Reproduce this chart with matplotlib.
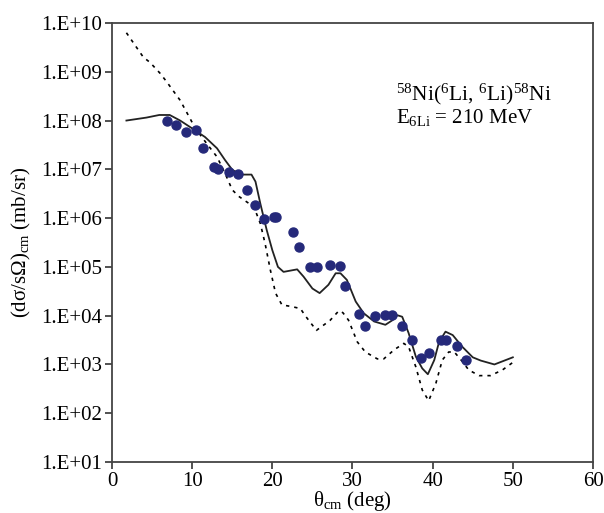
import matplotlib
matplotlib.use('Agg')
import matplotlib.pyplot as plt
from matplotlib.ticker import FixedLocator, FuncFormatter
import numpy as np

matplotlib.rcParams.update({'font.family': 'Liberation Serif',
                            'font.size': 15,
                            'mathtext.fontset': 'custom',
                            'mathtext.rm': 'Liberation Serif',
                            'mathtext.it': 'Liberation Serif:italic'})

# measured cross sections (points)
theta_exp = [6.9, 8.0, 9.2, 10.5, 11.4, 12.7, 13.2, 14.6, 15.7, 16.8, 17.9, 18.9,
             20.2, 20.5, 22.6, 23.3, 24.7, 25.6, 27.2, 28.5, 29.1, 30.8, 31.6,
             32.8, 34.0, 34.9, 36.2, 37.4, 38.6, 39.6, 41.0, 41.7, 43.0, 44.2]
sigma_exp = [1.0e8, 8.1e7, 5.9e7, 6.3e7, 2.7e7, 1.1e7, 1.0e7, 8.7e6, 8.2e6, 3.8e6,
             1.9e6, 9.8e5, 1.05e6, 1.05e6, 5.2e5, 2.5e5, 1.0e5, 9.8e4, 1.1e5, 1.05e5,
             4.0e4, 1.1e4, 6.2e3, 9.8e3, 1.05e4, 1.05e4, 6.2e3, 3.1e3, 1.34e3,
             1.74e3, 3.1e3, 3.1e3, 2.35e3, 1.26e3]

# calculation 1 (solid)
theta_a = [1.8, 4.3, 5.9, 7.2, 8.5, 10.0, 11.6, 13.1, 14.1, 15.0, 16.0, 17.4, 17.9,
           18.5, 19.3, 20.0, 20.7, 21.4, 23.1, 23.9, 25.0, 25.9, 27.0, 27.9, 28.5,
           29.3, 30.4, 31.4, 32.7, 34.1, 35.0, 35.6, 36.2, 37.0, 37.9, 38.7, 39.4,
           40.2, 40.8, 41.6, 42.5, 43.7, 45.0, 46.0, 47.7, 50.0]
sigma_a = [1.0e8, 1.15e8, 1.3e8, 1.3e8, 1.0e8, 6.9e7, 4.6e7, 2.7e7, 1.55e7, 9.8e6,
           7.8e6, 7.8e6, 5.6e6, 2.0e6, 5.7e5, 2.2e5, 1.0e5, 7.9e4, 8.9e4, 6.3e4,
           3.6e4, 2.9e4, 4.3e4, 7.4e4, 7.4e4, 5.4e4, 1.95e4, 1.12e4, 7.6e3, 6.5e3,
           8.1e3, 1.02e4, 9.5e3, 4.4e3, 1.45e3, 8.3e2, 6.3e2, 1.23e3, 2.9e3, 4.7e3,
           4.0e3, 2.3e3, 1.4e3, 1.2e3, 1.0e3, 1.4e3]

# calculation 2 (dashed)
theta_b = [1.8, 3.9, 4.75, 6.0, 6.8, 8.5, 9.5, 10.4, 11.8, 13.1, 14.1, 15.0, 15.8,
           17.7, 18.5, 19.1, 19.75, 20.4, 21.2, 22.3, 23.5, 24.1, 25.5, 27.2, 28.3,
           28.8, 29.5, 30.6, 31.6, 33.1, 33.9, 35.2, 36.4, 37.0, 37.9, 38.7, 39.5,
           40.4, 41.2, 42.0, 42.7, 43.7, 44.5, 45.8, 47.2, 48.7, 50.0]
sigma_b = [6.3e9, 2.0e9, 1.55e9, 9.3e8, 6.3e8, 2.6e8, 1.3e8, 6.9e7, 3.4e7, 1.8e7,
           8.3e6, 3.8e6, 2.8e6, 1.7e6, 7.8e5, 3.0e5, 8.7e4, 2.9e4, 1.66e4, 1.55e4,
           1.4e4, 1.0e4, 5.0e3, 8.0e3, 1.26e4, 1.15e4, 8.1e3, 2.9e3, 1.8e3, 1.3e3,
           1.3e3, 2.0e3, 2.7e3, 2.3e3, 8.9e2, 3.0e2, 1.8e2, 4.1e2, 1.23e3, 1.8e3,
           1.8e3, 1.15e3, 7.7e2, 5.9e2, 5.9e2, 7.7e2, 1.1e3]

fig = plt.figure(figsize=(6.04, 5.13), dpi=100)
ax = fig.add_axes([0.1854, 0.0994, 0.7964, 0.8558])

ax.plot(theta_b, sigma_b, color='black', linestyle=(0, (2, 3)), linewidth=1.2)
ax.plot(theta_a, sigma_a, color='#222222', linewidth=1.3)
ax.plot(theta_exp, sigma_exp, 'o', color='#25297a', markersize=6.5)

ax.set_yscale('log')
ax.set_xlim(0, 60)
ax.set_ylim(1e1, 1e10)
ax.set_xticks(range(0, 61, 10))
ax.yaxis.set_major_locator(FixedLocator([10.0 ** k for k in range(1, 11)]))
ax.yaxis.set_minor_locator(FixedLocator([]))
ax.yaxis.set_major_formatter(FuncFormatter(lambda v, p: '1.E+%02d' % int(round(np.log10(v)))))
ax.tick_params(direction='out', length=5, width=1.2, pad=2, colors='#333333', labelcolor='black')
for s in ax.spines.values():
    s.set_color('#444444')
    s.set_linewidth(1.3)

ax.set_xlabel(r'θ$_{\rm cm}$ (deg)', labelpad=-1)
ax.set_ylabel(r'(dσ/sΩ)$_{\rm cm}$ (mb/sr)', labelpad=6)

ax.text(35.4, 3.4e8, r'$^{58}$Ni($^{6}$Li, $^{6}$Li)$^{58}$Ni', fontsize=15.5, ha='left', va='center')
ax.text(35.4, 1.15e8, r'E$_{\rm 6Li}$ = 210 MeV', fontsize=15, ha='left', va='center')

fig.savefig('out.png', dpi=100)
